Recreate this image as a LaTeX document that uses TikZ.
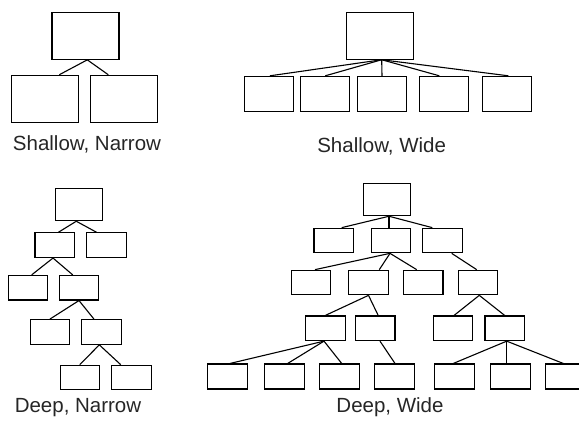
\documentclass[tikz,border=0pt]{standalone}
\usepackage{fontspec}
\setmainfont{Liberation Sans}
\tikzset{
  box/.style={draw, line width=1.1pt, inner sep=0pt, minimum width=39.5pt, minimum height=24.6pt},
  bigbox/.style={box, minimum width=67pt, minimum height=47pt},
  midbox/.style={box, minimum width=49pt, minimum height=34.7pt},
  rootbox/.style={box, minimum width=46.7pt, minimum height=32.4pt},
  caption/.style={text=black!85, font=\fontsize{20.5}{24}\selectfont},
  edge/.style={line width=1.1pt}
}
\begin{document}
\begin{tikzpicture}[x=1pt, y=-1pt]
\useasboundingbox (0,0) rectangle (579,423);
\clip (0,0) rectangle (579,423);
% Shallow, narrow
\node[bigbox] (snRoot) at (85.5,35.8) {};
\node[bigbox] (snL) at (44.7,98.8) {};
\node[bigbox] (snR) at (123.7,98.8) {};
\draw[edge] ([xshift=1.8pt]snRoot.south) -- ([xshift=14.6pt]snL.north);
\draw[edge] ([xshift=1.8pt]snRoot.south) -- ([xshift=-15.4pt]snR.north);
\node[caption] (snLabel) at (87,144) {Shallow, Narrow};
% Shallow, wide
\node[bigbox] (swRoot) at (380,35.7) {};
\foreach \i/\x in {1/268.8,2/325.3,3/382,4/443.7,5/507.3}
    \node[midbox] (sw\i) at (\x,93.7) {};
\foreach \i/\s in {1/1.2,2/0,3/0,4/-4.4,5/1}
    \draw[edge] ([xshift=1.7pt]swRoot.south) -- ([xshift=\s pt]sw\i.north);
\node[caption] (swLabel) at (381.7,146) {Shallow, Wide};
% Deep, narrow
\node[rootbox] (dnRoot) at (79,204.5) {};
\node[box] (dnA) at (54.7,245.2) {};
\node[box] (dnB) at (106.3,245.2) {};
\node[box] (dnC) at (28,287.7) {};
\node[box] (dnD) at (79,287.7) {};
\node[box] (dnE) at (49.8,332) {};
\node[box] (dnF) at (101.3,332) {};
\node[box] (dnG) at (79.8,377.5) {};
\node[box] (dnH) at (131.3,377.5) {};
\draw[edge] ([xshift=-2.7pt]dnRoot.south) -- ([xshift=3.6pt]dnA.north);
\draw[edge] ([xshift=-2.7pt]dnRoot.south) -- ([xshift=-9.6pt]dnB.north);
\draw[edge] ([xshift=-1.7pt]dnA.south) -- ([xshift=3.7pt]dnC.north);
\draw[edge] ([xshift=-1.7pt]dnA.south) -- ([xshift=-6.3pt]dnD.north);
\draw[edge] (dnD.south) -- (dnE.north);
\draw[edge] (dnD.south) -- ([xshift=-7.3pt]dnF.north);
\draw[edge] ([xshift=-2pt]dnF.south) -- (dnG.north);
\draw[edge] ([xshift=-2pt]dnF.south) -- ([xshift=-10.6pt]dnH.north);
\node[caption] (dnLabel) at (78,407.3) {Deep, Narrow};
% Deep, wide
\node[rootbox] (dwRoot) at (386.7,199.5) {};
\foreach \n/\x in {A/333.7,B/391,C/442.5}
    \node[box] (dw\n) at (\x,240.5) {};
\foreach \n/\x in {D/310.8,E/368.5,F/423.2,G/478}
    \node[box] (dw\n) at (\x,282.5) {};
\foreach \n/\x in {H/325.3,I/375.2,J/453,K/504.7}
    \node[box] (dw\n) at (\x,328.3) {};
\foreach \n/\x in {1/227.3,2/284.2,3/339.3,4/394.2,5/454.3,6/510.3,7/565.7}
    \node[box, minimum width=40pt, minimum height=25pt] (dwL\n) at (\x,376.5) {};
\draw[edge] ([xshift=2.3pt]dwRoot.south) -- ([xshift=8pt]dwA.north);
\draw[edge] ([xshift=2.3pt]dwRoot.south) -- ([xshift=-2pt]dwB.north);
\draw[edge] ([xshift=2.3pt]dwRoot.south) -- ([xshift=-10.2pt]dwC.north);
\draw[edge] ([xshift=-1pt]dwB.south) -- ([xshift=4.2pt]dwD.north);
\draw[edge] ([xshift=-1pt]dwB.south) -- ([xshift=10.8pt]dwE.north);
\draw[edge] ([xshift=-1pt]dwB.south) -- ([xshift=-6.5pt]dwF.north);
\draw[edge] ([xshift=9.2pt]dwC.south) -- ([xshift=-1.3pt]dwG.north);
\draw[edge] (dwE.south) -- (dwH.north);
\draw[edge] (dwE.south) -- ([xshift=3pt]dwI.north);
\draw[edge] ([xshift=1.3pt]dwG.south) -- ([xshift=1pt]dwJ.north);
\draw[edge] ([xshift=1.3pt]dwG.south) -- (dwK.north);
\foreach \n/\s in {1/2.7,2/3.5,3/2.4}
    \draw[edge] ([xshift=-1.3pt]dwH.south) -- ([xshift=\s pt]dwL\n.north);
\draw[edge] ([xshift=4.8pt]dwI.south) -- ([xshift=0.8pt]dwL4.north);
\foreach \n/\s in {5/-1,6/-3.6,7/-2.4}
    \draw[edge] ([xshift=2pt]dwK.south) -- ([xshift=\s pt]dwL\n.north);
\node[caption] (dwLabel) at (390,406.7) {Deep, Wide};
\end{tikzpicture}
\end{document}
